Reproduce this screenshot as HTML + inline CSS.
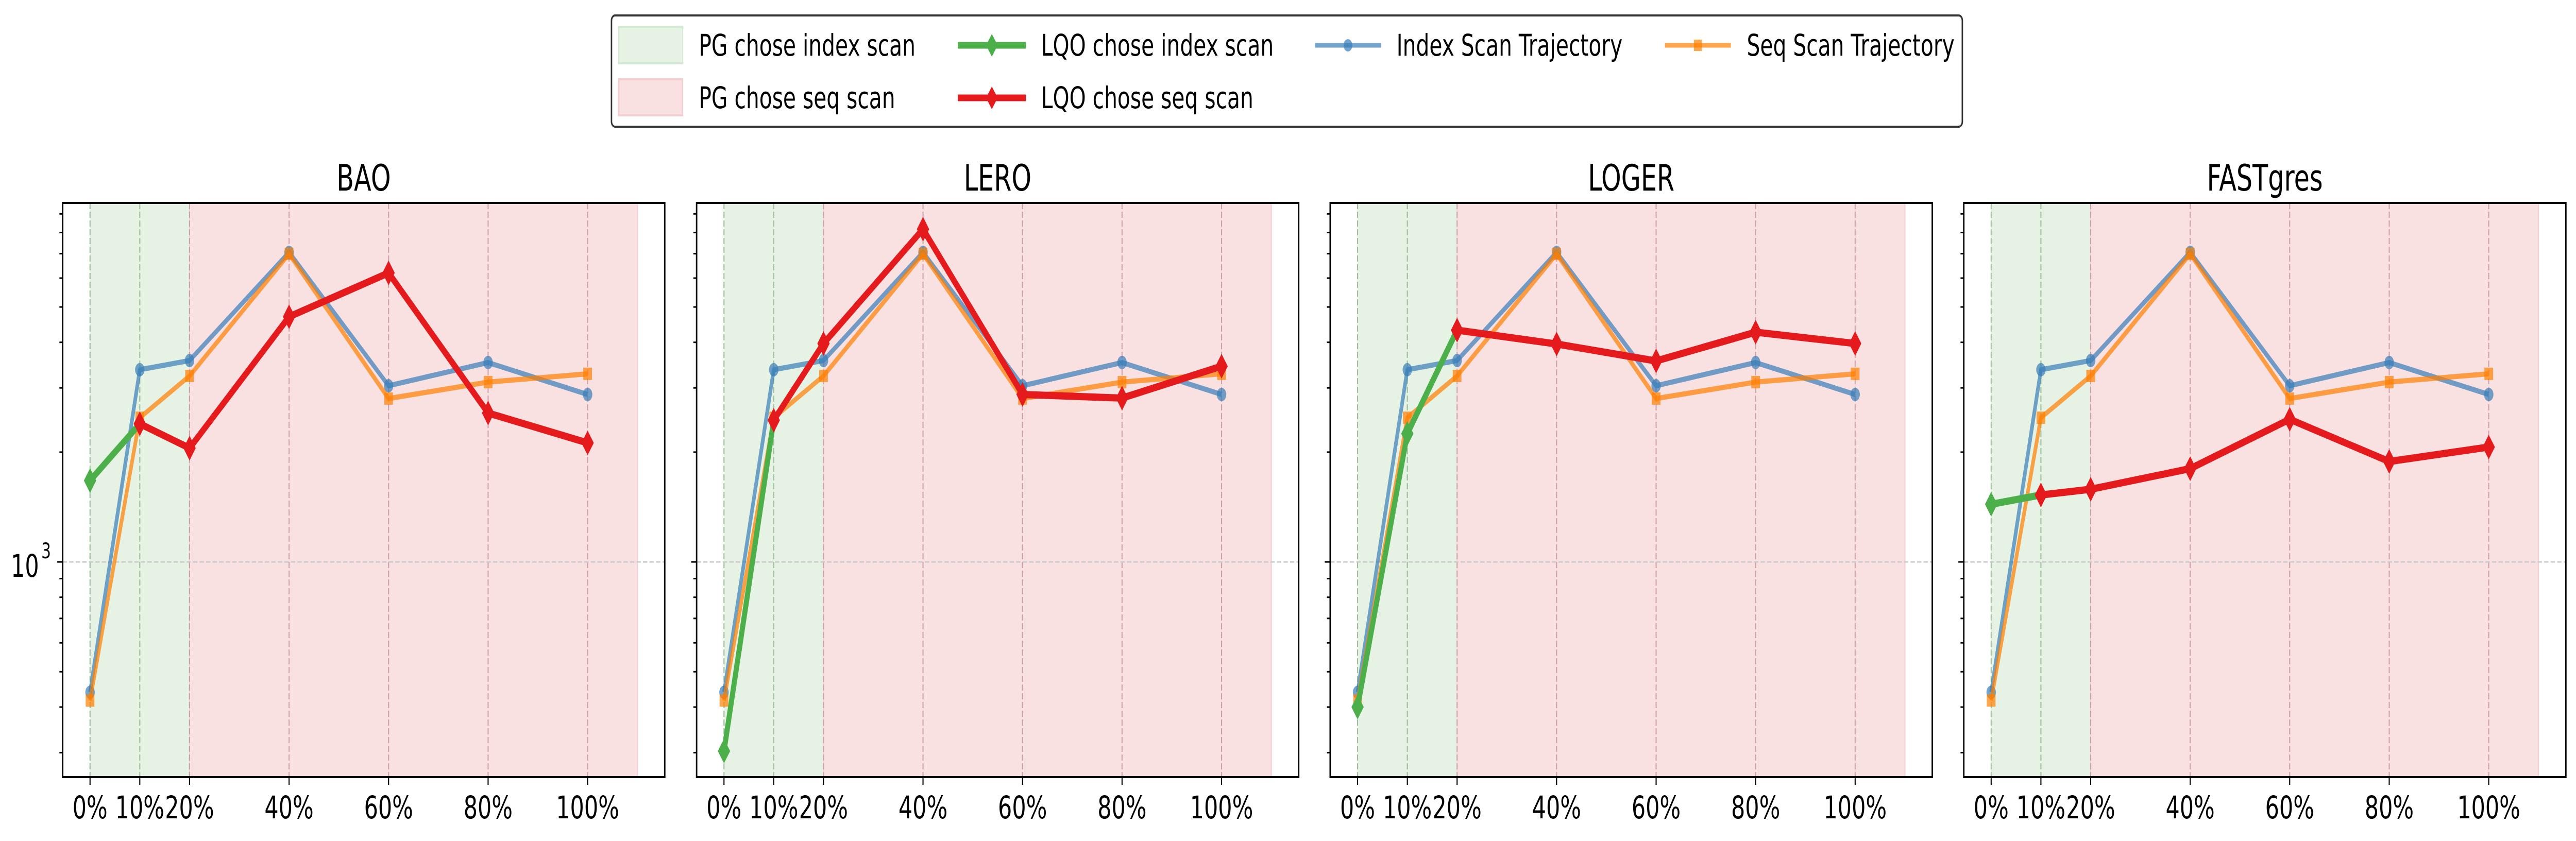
<!DOCTYPE html>
<html><head><meta charset="utf-8"><style>
html,body{margin:0;padding:0;background:#fff;width:100%;height:100%;overflow:hidden;}
svg{display:block;width:100vw;height:100vh;font-family:"DejaVu Sans","Liberation Sans",sans-serif;}
</style></head><body>
<svg id="fig" viewBox="0 0 7111 1633" preserveAspectRatio="none" xmlns="http://www.w3.org/2000/svg">
<g>
<rect x="1688" y="30" width="3729" height="216" rx="10" fill="#fff" stroke="#333" stroke-width="4"/>
<rect x="1708" y="52" width="176" height="71" fill="#e6f2e4" stroke="#d4ead2" stroke-width="4"/>
<text x="1929" y="108" font-size="58">PG chose index scan</text>
<rect x="1708" y="154" width="176" height="70" fill="#f9e0e1" stroke="#f4cdd0" stroke-width="4"/>
<text x="1929" y="210" font-size="58">PG chose seq scan</text>
<line x1="2644" y1="88" x2="2832" y2="88" stroke="#4daf4a" stroke-width="13"/>
<polygon points="2738,66 2754,88 2738,110 2722,88" fill="#4daf4a"/>
<text x="2874" y="108" font-size="58">LQO chose index scan</text>
<line x1="2644" y1="190" x2="2832" y2="190" stroke="#e41a1c" stroke-width="13"/>
<polygon points="2738,168 2754,190 2738,212 2722,190" fill="#e41a1c"/>
<text x="2874" y="210" font-size="58">LQO chose seq scan</text>
<line x1="3630" y1="88" x2="3812" y2="88" stroke="#377eb8" stroke-opacity="0.7" stroke-width="9"/>
<circle cx="3721" cy="88" r="12" fill="#377eb8" fill-opacity="0.7"/>
<text x="3855" y="108" font-size="58">Index Scan Trajectory</text>
<line x1="4596" y1="88" x2="4778" y2="88" stroke="#ff7f00" stroke-opacity="0.7" stroke-width="9"/>
<rect x="4676" y="77" width="22" height="22" fill="#ff7f00" fill-opacity="0.7"/>
<text x="4822" y="108" font-size="58">Seq Scan Trajectory</text>
</g>
<g id="panels"></g>
</svg>
<script>
const panelTitles = ["BAO", "LERO", "LOGER", "FASTgres"];
const xCats = [0, 10, 20, 40, 60, 80, 100];
const xTickLabels = ["0%", "10%", "20%", "40%", "60%", "80%", "100%"];
const indexTraj = [439, 3365, 3566, 7060, 3041, 3521, 2878];
const seqTraj = [417, 2485, 3235, 6990, 2805, 3112, 3279];
const lqoBAO = [1671, 2392, 2051, 4700, 6200, 2560, 2120];
const lqoLERO = [303, 2446, 3970, 8170, 2878, 2813, 3440];
const lqoLOGER = [400, 2248, 4320, 3958, 3556, 4265, 3970];
const lqoFAST = [1439, 1526, 1582, 1802, 2461, 1885, 2065];
const lqoIndexCount = [2, 2, 3, 2];
const pgIndexEnd = 20;
const shadeEnd = 110;
const yMinorTicks = [300, 400, 500, 600, 700, 800, 900, 2000, 3000, 4000, 5000, 6000, 7000, 8000, 9000];
const yMajorTicks = [1000];

const lqoSeries = [lqoBAO, lqoLERO, lqoLOGER, lqoFAST];
const NS = "http://www.w3.org/2000/svg";
const lefts = [173, 1923, 3672, 5421];
const W = 1662, TOP = 394, BOT = 1509;
const XMIN = -5.5, XMAX = 115.5;
const YMIN = 257, YMAX = 9645;
function mk(tag, attrs, parent) {
  const e = document.createElementNS(NS, tag);
  for (const k in attrs) e.setAttribute(k, attrs[k]);
  parent.appendChild(e);
  return e;
}
const root = document.getElementById("panels");
panelTitles.forEach((title, p) => {
  const L = lefts[p];
  const xs = v => L + (v - XMIN) / (XMAX - XMIN) * W;
  const ys = v => TOP + (Math.log10(YMAX) - Math.log10(v)) / (Math.log10(YMAX) - Math.log10(YMIN)) * (BOT - TOP);
  const g = mk("g", {}, root);
  
  
  const cp = mk("clipPath", {id: "cp" + p}, g);
  mk("rect", {x: L, y: TOP, width: W, height: BOT - TOP}, cp);
  const inner = mk("g", {"clip-path": "url(#cp" + p + ")"}, g);
  const sg = mk("rect", {x: xs(0), y: TOP, width: xs(pgIndexEnd) - xs(0), height: BOT - TOP, fill: "#e6f2e4"}, inner);
  
  
  const sr = mk("rect", {x: xs(pgIndexEnd), y: TOP, width: xs(shadeEnd) - xs(pgIndexEnd), height: BOT - TOP, fill: "#f9e0e1", stroke: "#f6d0d3", "stroke-width": 3}, inner);
  
  
  xCats.forEach(c => {
    const col = c < pgIndexEnd ? "#9dbf9b" : "#cfa0a8";
    mk("line", {x1: xs(c), x2: xs(c), y1: TOP, y2: BOT, stroke: col, "stroke-width": 3, "stroke-dasharray": "12,5"}, inner);
  });
  mk("line", {x1: L, x2: L + W, y1: ys(1000), y2: ys(1000), stroke: "#cccccc", "stroke-width": 3, "stroke-dasharray": "12,6"}, inner);
  function poly(vals, color, sw, op, name) {
    const pl = mk("polyline", {points: vals.map((v, i) => xs(xCats[i]) + "," + ys(v)).join(" "), fill: "none", stroke: color, "stroke-width": sw, "stroke-opacity": op, "stroke-linejoin": "round"}, inner);
    
    
  }
  poly(indexTraj, "#377eb8", 10, 0.7, "index-scan-line");
  indexTraj.forEach((v, i) => {
    const c = mk("circle", {cx: xs(xCats[i]), cy: ys(v), r: 13, fill: "#377eb8", "fill-opacity": 0.7}, inner);
    
    
  });
  poly(seqTraj, "#ff7f00", 10, 0.7, "seq-scan-line");
  seqTraj.forEach((v, i) => {
    const r = mk("rect", {x: xs(xCats[i]) - 12, y: ys(v) - 12, width: 24, height: 24, fill: "#ff7f00", "fill-opacity": 0.7}, inner);
    
    
  });
  const lqo = lqoSeries[p];
  const n = lqoIndexCount[p];
  const gPart = lqo.slice(0, n), rPart = lqo.slice(n - 1);
  const rOff = n - 1;
  poly(gPart, "#4daf4a", 14, 1, "lqo-index-line");
  const rp = mk("polyline", {points: rPart.map((v, i) => xs(xCats[i + rOff]) + "," + ys(v)).join(" "), fill: "none", stroke: "#e41a1c", "stroke-width": 14, "stroke-linejoin": "round"}, inner);
  
  
  lqo.forEach((v, i) => {
    if (i === n - 1 && i > 0) return;
    const col = i < n - 1 ? "#4daf4a" : "#e41a1c";
    const cx = xs(xCats[i]), cy = ys(v);
    const d = mk("polygon", {points: `${cx},${cy-24} ${cx+17},${cy} ${cx},${cy+24} ${cx-17},${cy}`, fill: col}, inner);
    
    
  });
  if (n > 1) {
    const v = lqo[n - 1], cx = xs(xCats[n - 1]), cy = ys(v);
    const d = mk("polygon", {points: `${cx},${cy-24} ${cx+17},${cy} ${cx},${cy+24} ${cx-17},${cy}`, fill: "#e41a1c"}, inner);
    
    
  }
  mk("rect", {x: L, y: TOP, width: W, height: BOT - TOP, fill: "none", stroke: "#000", "stroke-width": 4}, g);
  yMinorTicks.forEach(t => mk("line", {x1: L - 9, x2: L, y1: ys(t), y2: ys(t), stroke: "#000", "stroke-width": 3}, g));
  yMajorTicks.forEach(t => mk("line", {x1: L - 15, x2: L, y1: ys(t), y2: ys(t), stroke: "#000", "stroke-width": 3}, g));
  if (p === 0) {
    const yl = mk("text", {x: 30, y: ys(1000) + 29, "font-size": 61}, g);
    
    
    yl.textContent = "10";
    const sup = mk("text", {x: 114, y: ys(1000) - 7, "font-size": 42}, g);
    
    
    sup.textContent = "3";
  }
  xCats.forEach((c, i) => {
    mk("line", {x1: xs(c), x2: xs(c), y1: BOT, y2: BOT + 15, stroke: "#000", "stroke-width": 3}, g);
    const t = mk("text", {x: xs(c), y: 1589, "font-size": 61, "text-anchor": "middle"}, g);
    
    
    t.textContent = xTickLabels[i];
  });
  const tt = mk("text", {x: L + W / 2, y: 370, "font-size": 70, "text-anchor": "middle"}, g);
  
  
  tt.textContent = title;
});
</script>
</body></html>
